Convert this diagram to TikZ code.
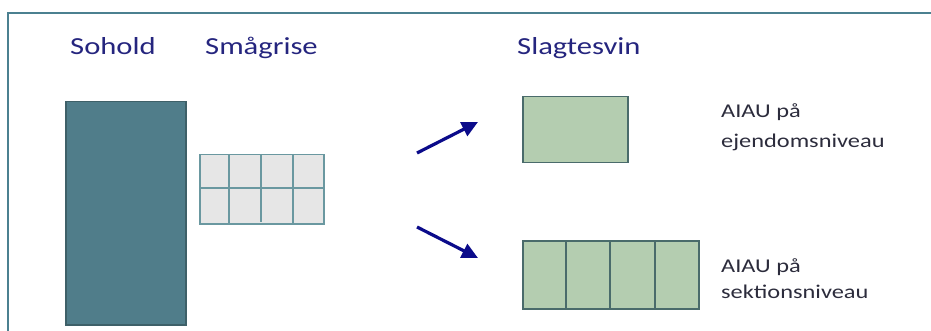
\documentclass[tikz,border=0pt]{standalone}
\usepackage{fontspec}
\setmainfont[FakeStretch=1.25]{Carlito}
\usetikzlibrary{arrows.meta}
\definecolor{frameC}{HTML}{4B8090}
\definecolor{soholdC}{HTML}{507D8A}
\definecolor{soholdB}{HTML}{3E6068}
\definecolor{gridF}{HTML}{E6E6E6}
\definecolor{gridL}{HTML}{6A98A0}
\definecolor{greenF}{HTML}{B4CDB0}
\definecolor{greenB}{HTML}{4A6B6B}
\definecolor{arrowC}{HTML}{0B0B8A}
\definecolor{titleC}{HTML}{25257E}
\definecolor{labelC}{HTML}{2C2C3C}
\tikzset{
  titletext/.style={anchor=base west, inner sep=0pt, text=titleC, font=\fontsize{24.5}{28}\selectfont},
  labeltext/.style={anchor=base west, inner sep=0pt, text=labelC, font=\fontsize{19.5}{22}\selectfont},
  boxrect/.style={draw, rectangle, inner sep=0pt, line width=1.5pt},
  bigarrow/.style={draw=arrowC, line width=3.2pt, -{Triangle[length=16pt,width=15pt]}},
}
\begin{document}
\begin{tikzpicture}[x=1pt,y=-1pt]
\useasboundingbox (0,0) rectangle (931,331);
% frame
\draw[frameC, line width=2pt] (8,335) -- (8,13) -- (935,13);
% titles
\node[titletext] (tSohold) at (70,55) {Sohold};
\node[titletext] (tSmaa) at (205,55) {Smågrise};
\node[titletext] (tSlag) at (517,55) {Slagtesvin};
% sohold box
\node[boxrect, draw=soholdB, fill=soholdC, anchor=north west, minimum width=120pt, minimum height=223pt] (sohold) at (65,101) {};
% grid
\node[boxrect, draw=gridL, fill=gridF, anchor=north west, minimum width=124pt, minimum height=69pt] (grid) at (199,154) {};
\draw[gridL, line width=1.5pt] (229,154) -- (229,225) (261,154) -- (261,222) (293,154) -- (293,225);
\draw[gridL, line width=1.5pt] (grid.west |- 0,188) -- (grid.east |- 0,188);
% green top
\node[boxrect, draw=greenB, fill=greenF, anchor=north west, minimum width=105pt, minimum height=66pt] (gtop) at (522,96) {};
% green bottom
\node[boxrect, draw=greenB, fill=greenF, anchor=north west, minimum width=176pt, minimum height=68pt] (gbot) at (522,240) {};
\draw[greenB, line width=1.5pt] (566,240) -- (566,308) (610,240) -- (610,308) (655,240) -- (655,308);
% arrows
\coordinate (a1s) at (417,153);
\coordinate (a1e) at (478,122);
\coordinate (a2s) at (417,227);
\coordinate (a2e) at (478,258);
\draw[bigarrow] (a1s) -- (a1e);
\draw[bigarrow] (a2s) -- (a2e);
% labels
\node[labeltext] (l1a) at (721,118) {AIAU på};
\node[labeltext] (l1b) at (721,148) {ejendomsniveau};
\node[labeltext] (l2a) at (721,272) {AIAU på};
\node[labeltext] (l2b) at (721,298) {sektionsniveau};
\end{tikzpicture}
\end{document}
